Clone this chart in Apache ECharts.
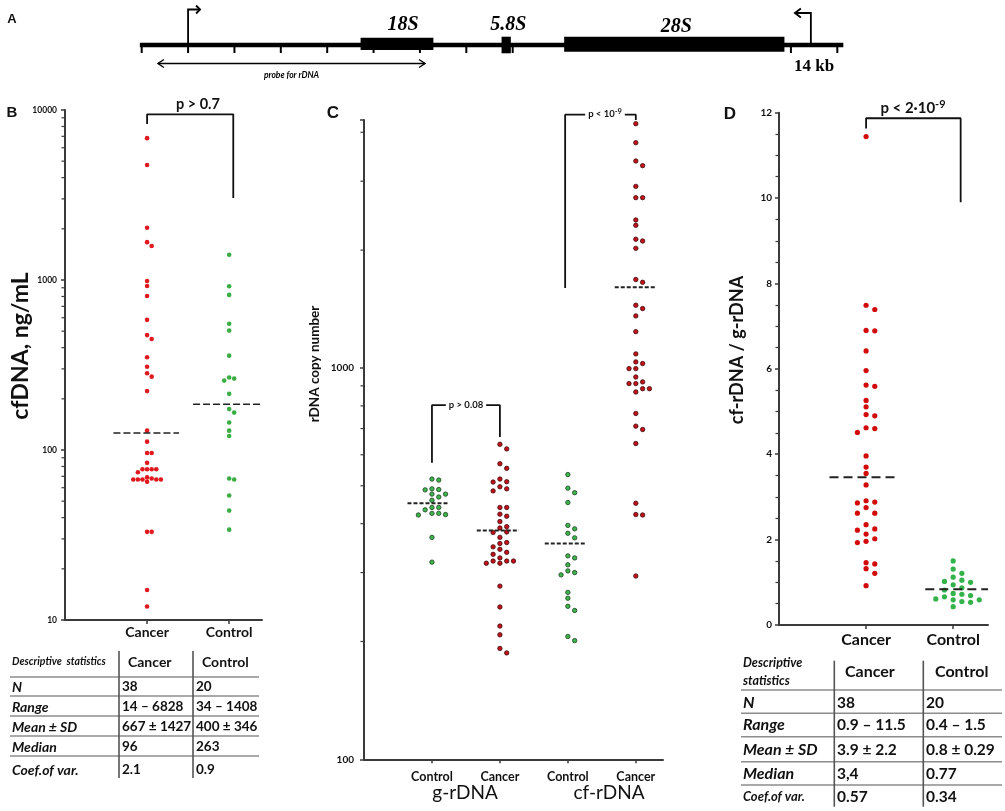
<!DOCTYPE html>
<html>
<head>
<meta charset="utf-8">
<title>rDNA in cfDNA</title>
<script src="https://cdn.jsdelivr.net/npm/echarts@6/dist/echarts.min.js"></script>
<style>
  html, body { margin: 0; padding: 0; background: #fff; }
  #main { width: 1005px; height: 811px; }
</style>
</head>
<body>
<div id="main"></div>
<script>
// ---- A: rDNA repeat map, kb ----
var geneNames = ['18S', '5.8S', '28S'];
var geneStartKb = [4.72, 7.76, 9.11];
var geneEndKb = [6.29, 7.96, 13.86];
var promoterKb = [1.0, 14.43];
var probeKb = [0.35, 6.11];
var scaleTicksKb = [0, 1, 2, 3, 4, 5, 6, 7, 8, 14, 15];
var probeLabel = 'probe for rDNA';
var scaleLabel = '14 kb';

// ---- B: cfDNA concentration, ng/mL ----
var groupsB = ['Cancer', 'Control'];
var cfdnaCancer = [6828, 4750, 2030, 1670, 1585, 986, 922, 805, 583, 474, 450, 351, 309, 283, 270, 222,
  130, 112, 96, 96, 84, 77, 77, 77, 77, 74, 69, 68, 67, 67, 67, 67, 67, 65, 33, 33, 15, 12];
var cfdnaControl = [1408, 918, 817, 553, 504, 359, 267, 263, 256, 214, 174, 166, 145, 130, 121, 68, 67, 54, 44, 34];
var cfdnaMean = [126, 186];
var pB = 'p > 0.7';

// ---- C: rDNA copy number ----
var groupsC = ['Control', 'Cancer', 'Control', 'Cancer'];
var setsC = ['g-rDNA', 'cf-rDNA'];
var gRdnaControl = [520, 517, 491, 489, 488, 476, 476, 468, 459, 440, 440, 434, 425, 425, 422, 421, 369, 319];
var gRdnaCancer = [638, 621, 569, 554, 520, 512, 511, 497, 491, 485, 440, 440, 423, 418, 405, 393, 390, 381, 380,
  369, 358, 356, 349, 344, 338, 334, 327, 321, 321, 321, 317, 317, 277, 245, 219, 208, 192, 187];
var cfRdnaControl = [534, 493, 480, 453, 396, 388, 378, 368, 331, 327, 314, 303, 300, 296, 267, 258, 246, 240, 206, 201];
var cfRdnaCancer = [4207, 3763, 3378, 3287, 2910, 2723, 2723, 2388, 2314, 2132, 2110, 2021, 1682, 1655, 1446, 1418,
  1358, 1238, 1086, 1036, 1026, 996, 996, 948, 921, 912, 912, 885, 885, 868, 765, 710, 696, 641, 451, 422, 421, 294];
var rdnaMean = [451, 384, 356, 1607];
var pC1 = 'p > 0.08';
var pC2 = ['p < 10', '-9'];

// ---- D: cf-rDNA / g-rDNA ----
var groupsD = ['Cancer', 'Control'];
var ratioCancer = [11.44, 7.49, 7.39, 6.90, 6.89, 6.42, 5.96, 5.62, 5.59, 5.26, 5.11, 4.93, 4.90, 4.62, 4.60, 4.51,
  3.96, 3.70, 3.55, 3.28, 2.91, 2.88, 2.86, 2.75, 2.62, 2.62, 2.35, 2.25, 2.22, 2.13, 2.02, 1.96, 1.93, 1.46, 1.43,
  1.32, 1.21, 0.92];
var ratioControl = [1.50, 1.31, 1.21, 1.12, 1.05, 1.02, 1.00, 0.94, 0.87, 0.82, 0.74, 0.72, 0.69, 0.66, 0.61, 0.59,
  0.59, 0.55, 0.53, 0.43];
var ratioMean = [3.46, 0.84];
var pD = ['p < 2·10', '-9'];

// ---- descriptive statistics tables ----
var statHeader = ['Descriptive', 'statistics'];
var statNames = ['N', 'Range', 'Mean ± SD', 'Median', 'Coef.of var.'];
var statsBCancer = ['38', '14 – 6828', '667 ± 1427', '96', '2.1'];
var statsBControl = ['20', '34 – 1408', '400 ± 346', '263', '0.9'];
var statsDCancer = ['38', '0.9 – 11.5', '3.9 ± 2.2', '3,4', '0.57'];
var statsDControl = ['20', '0.4 – 1.5', '0.8 ± 0.29', '0.77', '0.34'];

var FONT = 'Lato, "Liberation Sans", sans-serif';
var SERIF = '"Liberation Serif", "DejaVu Serif", serif';
var ARIAL = '"Liberation Sans", Arial, sans-serif';
var AXIS = '#3a3a3a';
var INK = '#111';

var chart = echarts.init(document.getElementById('main'));

function catAxis(gi, max, names, size, margin) {
  var vals = names.map(function (n, i) { return i + 1; });
  return {
    gridIndex: gi, type: 'value', min: 0, max: max,
    splitLine: { show: false },
    axisLine: { lineStyle: { color: AXIS, width: 2 } },
    axisTick: { customValues: vals, length: 4, lineStyle: { color: AXIS, width: 1.5 } },
    axisLabel: {
      customValues: vals, margin: margin, color: INK, fontFamily: FONT, fontWeight: 'bold', fontSize: size,
      formatter: function (v) { return names[Math.round(v) - 1] || ''; }
    }
  };
}

function valAxis(gi, extra, labelSize, margin, formatter) {
  var ax = {
    gridIndex: gi, splitLine: { show: false },
    axisLine: { show: true, lineStyle: { color: AXIS, width: 2 } },
    axisTick: { show: true, length: 4, lineStyle: { color: AXIS, width: 1.5 } },
    axisLabel: { color: INK, fontFamily: FONT, fontWeight: 'bold', fontSize: labelSize, margin: margin, formatter: formatter }
  };
  for (var k in extra) ax[k] = extra[k];
  return ax;
}

function decades(from, to, max) {
  var out = [];
  for (var d = from; d < to; d *= 10) {
    for (var k = 2; k <= 9; k++) if (k * d <= max) out.push(k * d);
  }
  return out;
}

function minorTicks(gi, values) {
  return {
    type: 'custom', xAxisIndex: gi, yAxisIndex: gi, silent: true, clip: false, z: 1,
    data: values.map(function (v) { return [0, v]; }),
    renderItem: function (params, api) {
      var p = api.coord([api.value(0), api.value(1)]);
      return { type: 'line', shape: { x1: p[0] - 3.5, y1: p[1], x2: p[0], y2: p[1] }, style: { stroke: AXIS, lineWidth: 1.2 } };
    }
  };
}

function dots(id, gi, x, values, color, border, size) {
  return {
    id: id, type: 'scatter', xAxisIndex: gi, yAxisIndex: gi, symbolSize: size, silent: true, z: 3,
    itemStyle: { color: color, borderColor: border || color, borderWidth: border ? 0.8 : 0, opacity: 1 },
    data: values.map(function (v) { return [x, v]; })
  };
}

function meanLine(gi, x, v, left, right, dash, width) {
  return {
    type: 'line', xAxisIndex: gi, yAxisIndex: gi, symbol: 'none', silent: true, z: 4,
    data: [[x - left, v], [x + right, v]],
    lineStyle: { color: '#222', width: width, type: dash }
  };
}

function bracket(gi, pts) {
  return {
    type: 'line', xAxisIndex: gi, yAxisIndex: gi, symbol: 'none', silent: true, clip: false, z: 5,
    data: pts, lineStyle: { color: INK, width: 1.8 }
  };
}

// gene map drawn on a kb axis
var geneMap = {
  type: 'custom', xAxisIndex: 0, yAxisIndex: 0, silent: true, clip: false,
  data: [0],
  renderItem: function (params, api) {
    var y0 = api.coord([0, 0])[1];
    var X = function (kb) { return api.coord([kb, 0])[0]; };
    var span = [[-7.3, 5], [-8.3, 8.3], [-8.3, 6.7]];
    var labelY = [-20, -20, -18];
    var pen = { stroke: '#000', lineWidth: 1.8, fill: null };
    var kids = [];
    kids.push({ type: 'line', shape: { x1: X(-0.04), y1: y0, x2: X(15.13), y2: y0 }, style: { stroke: '#000', lineWidth: 4.5 } });
    scaleTicksKb.forEach(function (kb) {
      kids.push({ type: 'line', shape: { x1: X(kb), y1: y0, x2: X(kb), y2: y0 + 8 }, style: { stroke: '#000', lineWidth: 2 } });
    });
    geneStartKb.forEach(function (s, i) {
      var x1 = X(s), x2 = X(geneEndKb[i]);
      kids.push({ type: 'rect', shape: { x: x1, y: y0 + span[i][0], width: x2 - x1, height: span[i][1] - span[i][0] }, style: { fill: '#000' } });
      kids.push({ type: 'text', x: (x1 + x2) / 2 + (i === 0 ? 6 : 2), y: y0 + labelY[i], style: {
        text: geneNames[i], fill: '#000', fontFamily: SERIF, fontStyle: 'italic', fontWeight: 'bold', fontSize: 20,
        align: 'center', verticalAlign: 'middle' } });
    });
    var a = X(promoterKb[0]), top = y0 - 35.5;
    kids.push({ type: 'polyline', shape: { points: [[a, y0], [a, top], [a + 12, top]] }, style: pen });
    kids.push({ type: 'polyline', shape: { points: [[a + 8, top - 4], [a + 12, top], [a + 8, top + 4]] }, style: pen });
    var b = X(promoterKb[1]), top2 = y0 - 32;
    kids.push({ type: 'polyline', shape: { points: [[b, y0], [b, top2], [b - 15, top2]] }, style: pen });
    kids.push({ type: 'polyline', shape: { points: [[b - 10, top2 - 4.5], [b - 16, top2], [b - 10, top2 + 4.5]] }, style: pen });
    var p1 = X(probeKb[0]), p2 = X(probeKb[1]), py = y0 + 18.5;
    var thin = { stroke: '#000', lineWidth: 1.4, fill: null };
    kids.push({ type: 'line', shape: { x1: p1, y1: py, x2: p2, y2: py }, style: thin });
    kids.push({ type: 'polyline', shape: { points: [[p1 + 6, py - 4], [p1, py], [p1 + 6, py + 4]] }, style: thin });
    kids.push({ type: 'polyline', shape: { points: [[p2 - 6, py - 4], [p2, py], [p2 - 6, py + 4]] }, style: thin });
    kids.push({ type: 'text', x: (p1 + p2) / 2, y: py + 12, style: {
      text: probeLabel, fill: '#000', fontFamily: FONT, fontStyle: 'italic', fontWeight: 'bold', fontSize: 8.5,
      align: 'center', verticalAlign: 'middle' } });
    kids.push({ type: 'text', x: (X(14) + X(15)) / 2, y: y0 + 22, style: {
      text: scaleLabel, fill: '#000', fontFamily: SERIF, fontWeight: 'bold', fontSize: 17,
      align: 'center', verticalAlign: 'middle' } });
    return { type: 'group', children: kids };
  }
};

function txt(x, y, text, size, opt) {
  opt = opt || {};
  var style = {
    text: text, fill: INK, fontSize: size, fontWeight: opt.weight || 'bold', fontStyle: opt.italic ? 'italic' : 'normal',
    fontFamily: opt.family || FONT, align: opt.align || 'center', verticalAlign: 'middle'
  };
  if (opt.bg) { style.backgroundColor = opt.bg; style.padding = [0, 3]; }
  if (opt.rich) style.rich = opt.rich;
  return { type: 'text', x: x, y: y, rotation: opt.rot || 0, z: 100, silent: true, style: style };
}

function seg(x1, y1, x2, y2, color, w) {
  return { type: 'line', z: 100, silent: true, shape: { x1: x1, y1: y1, x2: x2, y2: y2 }, style: { stroke: color, lineWidth: w } };
}

function statsTable(t, groups, cancer, control) {
  var out = [];
  t.hLines.forEach(function (y) { out.push(seg(t.x0, y, t.x1, y, '#8c8c8c', 1.5)); });
  t.vLines.forEach(function (x) { out.push(seg(x, t.y0, x, t.y1, '#555', 1.6)); });
  t.head.forEach(function (h, i) { out.push(txt(t.x0 + 2, t.headY[i], h, t.headSize, { italic: true, align: 'left' })); });
  groups.forEach(function (g, i) { out.push(txt(t.colHeadX[i], t.colHeadY, g, t.colHeadSize, { align: 'left' })); });
  statNames.forEach(function (n, r) {
    out.push(txt(t.x0 + 2, t.rowY[r], n, t.labelSize[r], { italic: true, align: 'left' }));
    out.push(txt(t.valueX[0], t.rowY[r], cancer[r], t.valueSize, { align: 'left' }));
    out.push(txt(t.valueX[1], t.rowY[r], control[r], t.valueSize, { align: 'left' }));
  });
  return out;
}

var tableB = statsTable({
  x0: 10, x1: 259, y0: 651, y1: 778, hLines: [677, 696, 716, 736, 756], vLines: [119, 193],
  head: [statHeader.join('  ')], headY: [662], headSize: 10.5,
  colHeadX: [128, 202], colHeadY: 662, colHeadSize: 14,
  rowY: [687, 707, 727, 747, 770], labelSize: [14, 14, 14, 14, 14], valueX: [122, 196], valueSize: 13.5
}, groupsB, statsBCancer, statsBControl);

var tableD = statsTable({
  x0: 741, x1: 1002, y0: 660.7, y1: 806.7, hLines: [690, 713.3, 736.7, 761.7, 785], vLines: [834.3, 923.3],
  head: statHeader, headY: [662.7, 681.3], headSize: 12.5,
  colHeadX: [845, 935], colHeadY: 671.7, colHeadSize: 16,
  rowY: [702.7, 725.3, 749.7, 773.7, 796.7], labelSize: [16, 16, 16, 16, 13], valueX: [837, 926], valueSize: 15.5
}, groupsD, statsDCancer, statsDControl);

var sup = function (a, b) {
  return { a: { fontSize: a, fontWeight: 'bold', fontFamily: FONT, lineHeight: a + 4, fill: INK },
           b: { fontSize: b, fontWeight: 'bold', fontFamily: FONT, lineHeight: a + 4, verticalAlign: 'top', fill: INK } };
};

var graphics = [
  txt(12, 19, 'A', 13, { family: ARIAL }),
  txt(12, 113, 'B', 15, { family: ARIAL }),
  txt(333, 113, 'C', 17, { family: ARIAL }),
  txt(730, 114, 'D', 17, { family: ARIAL }),
  txt(21, 346, 'cfDNA, ng/mL', 23, { rot: Math.PI / 2 }),
  txt(315, 364, 'rDNA copy number', 13.5, { rot: Math.PI / 2 }),
  txt(737, 350, 'cf-rDNA / g-rDNA', 18, { rot: Math.PI / 2 }),
  txt(198, 104, pB, 14.5),
  txt(466, 404.5, pC1, 9.5, { bg: '#fff' }),
  txt(605, 114, '{a|' + pC2[0] + '}{b|' + pC2[1] + '}', 9.5, { bg: '#fff', rich: sup(9.5, 7.5) }),
  txt(913, 108, '{a|' + pD[0] + '}{b|' + pD[1] + '}', 15, { rich: sup(15, 11) }),
  txt(465, 793, setsC[0], 19, { weight: 'normal' }),
  txt(609, 793, setsC[1], 19, { weight: 'normal' })
].concat(tableB, tableD);

var RED_B = '#e0191f', GREEN_B = '#3aae42';
var RED_C = '#c3121b', GREEN_C = '#3cb64b';
var RED_D = '#d20a0a', GREEN_D = '#33b349';

var option = {
  animation: false,
  backgroundColor: '#fff',
  grid: [
    { left: 141.7, top: 25, width: 695.6, height: 40 },
    { left: 65, top: 110, width: 197, height: 510 },
    { left: 364, top: 120, width: 299, height: 639.3 },
    { left: 779, top: 112.7, width: 209, height: 512.3 }
  ],
  xAxis: [
    { gridIndex: 0, type: 'value', min: 0, max: 15, show: false },
    catAxis(1, 2.4, groupsB, 14, 5),
    catAxis(2, 4.4, groupsC, 12.5, 11),
    catAxis(3, 2.4, groupsD, 16, 7)
  ],
  yAxis: [
    { gridIndex: 0, type: 'value', min: -1, max: 1, show: false },
    valAxis(1, { type: 'log', logBase: 10, min: 10, max: 10000 }, 8.5, 8, function (v) { return String(v); }),
    valAxis(2, { type: 'log', logBase: 10, min: 100, max: 4300 }, 10, 10, function (v) {
      return (v === 100 || v === 1000) ? String(v) : '';
    }),
    valAxis(3, { type: 'value', min: 0, max: 12, interval: 2,
      minorTick: { show: true, splitNumber: 4, length: 3.5, lineStyle: { color: AXIS, width: 1.2 } } }, 10, 7,
      function (v) { return String(v); })
  ],
  series: [
    geneMap,
    minorTicks(1, decades(10, 10000, 10000)),
    minorTicks(2, decades(100, 10000, 4300)),

    meanLine(1, 1, cfdnaMean[0], 0.41, 0.39, [7, 3], 1.6),
    meanLine(1, 2, cfdnaMean[1], 0.44, 0.4, [7, 3], 1.6),
    dots('b1', 1, 1, cfdnaCancer, RED_B, null, 4.6),
    dots('b2', 1, 2, cfdnaControl, GREEN_B, null, 4.6),
    bracket(1, [[1, 8275], [1, 9436], [2.05, 9436], [2.05, 3034]]),

    meanLine(2, 1, rdnaMean[0], 0.36, 0.25, [4, 2], 2),
    meanLine(2, 2, rdnaMean[1], 0.34, 0.28, [4, 2], 2),
    meanLine(2, 3, rdnaMean[2], 0.34, 0.27, [4, 2], 2),
    meanLine(2, 4, rdnaMean[3], 0.31, 0.29, [4, 2], 2),
    dots('c1', 2, 1, gRdnaControl, GREEN_C, '#1f3f24', 4.4),
    dots('c2', 2, 2, gRdnaCancer, RED_C, '#3d0a0a', 4.4),
    dots('c3', 2, 3, cfRdnaControl, GREEN_C, '#1f3f24', 4.4),
    dots('c4', 2, 4, cfRdnaCancer, RED_C, '#3d0a0a', 4.4),
    bracket(2, [[1, 572], [1, 803], [2, 803], [2, 666]]),
    bracket(2, [[2.96, 1600], [2.96, 4436], [4, 4436], [4, 4300]]),

    meanLine(3, 1, ratioMean[0], 0.42, 0.38, [9, 5], 2),
    meanLine(3, 2, ratioMean[1], 0.32, 0.4, [9, 5], 2),
    dots('d1', 3, 1, ratioCancer, RED_D, null, 5.2),
    dots('d2', 3, 2, ratioControl, GREEN_D, null, 5.2),
    bracket(3, [[1, 11.63], [1, 11.87], [2.086, 11.87], [2.086, 9.9]])
  ],
  graphic: graphics
};

chart.setOption(option);

// spread tied dots sideways (simple beeswarm in screen space)
function swarm(gi, center, values, slotPx, minDy) {
  var unit = chart.convertToPixel({ gridIndex: gi }, [center + 1, values[0]])[0] -
             chart.convertToPixel({ gridIndex: gi }, [center, values[0]])[0];
  var order = [0, 1, -1, 2, -2, 3, -3, 4, -4, 5, -5, 6, -6];
  var placed = [];
  var out = new Array(values.length);
  var idx = values.map(function (v, i) { return i; }).sort(function (a, b) { return values[b] - values[a]; });
  idx.forEach(function (i) {
    var y = chart.convertToPixel({ gridIndex: gi }, [center, values[i]])[1];
    var slot = order.find(function (s) {
      return placed.every(function (p) { return p.s !== s || Math.abs(p.y - y) >= minDy; });
    });
    placed.push({ s: slot, y: y });
    out[i] = [center + slot * slotPx / unit, values[i]];
  });
  return out;
}

chart.setOption({
  series: [
    { id: 'b1', data: swarm(1, 1, cfdnaCancer, 4.6, 4.4) },
    { id: 'b2', data: swarm(1, 2, cfdnaControl, 5, 4.4) },
    { id: 'c1', data: swarm(2, 1, gRdnaControl, 6.8, 5.2) },
    { id: 'c2', data: swarm(2, 2, gRdnaCancer, 6.8, 5.2) },
    { id: 'c3', data: swarm(2, 3, cfRdnaControl, 6.8, 5.2) },
    { id: 'c4', data: swarm(2, 4, cfRdnaCancer, 6.8, 5.2) },
    { id: 'd1', data: swarm(3, 1, ratioCancer, 8.7, 5.8) },
    { id: 'd2', data: swarm(3, 2, ratioControl, 8.7, 5.8) }
  ]
});

window.addEventListener('resize', function () { chart.resize(); });
</script>
</body>
</html>
